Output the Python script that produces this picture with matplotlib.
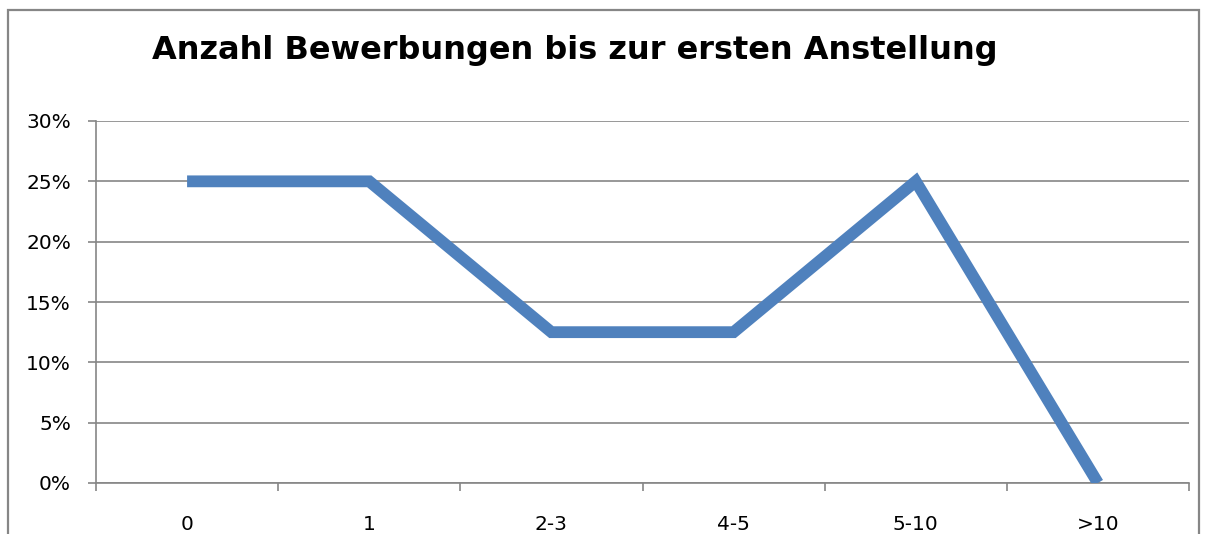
import matplotlib
matplotlib.use('Agg')
import matplotlib.pyplot as plt
from matplotlib.patches import Rectangle
from matplotlib.ticker import FixedLocator, PercentFormatter

# Daten
kategorien = ['0', '1', '2-3', '4-5', '5-10', '>10']
anteile = [25, 25, 12.5, 12.5, 25, 0]
y_ticks = [0, 5, 10, 15, 20, 25, 30]

LINIE = '#4F81BD'
GRAU = '#868686'

fig = plt.figure(figsize=(12.14, 5.34), dpi=100)
ax = fig.add_axes([96 / 1214, 51 / 534, 1093 / 1214, 362 / 534])

# Rahmen um das ganze Diagramm (unten abgeschnitten)
fig.patches.append(Rectangle((8 / 1214, -0.1), 1191 / 1214, 1.1 - 10 / 534,
                             transform=fig.transFigure, fill=False,
                             edgecolor=GRAU, linewidth=1.6))

x = list(range(len(kategorien)))
ax.plot(x, anteile, color=LINIE, linewidth=8.5, solid_capstyle='butt',
        solid_joinstyle='miter', zorder=3)

ax.set_xlim(-0.5, len(kategorien) - 0.5)
ax.set_ylim(0, 30)

ax.set_yticks(y_ticks)
ax.yaxis.set_major_formatter(PercentFormatter(decimals=0))
ax.grid(axis='y', color=GRAU, linewidth=1.2)
ax.set_axisbelow(True)

# Kategorie-Grenzen als Ticks, Beschriftung in der Mitte
ax.xaxis.set_major_locator(FixedLocator([i - 0.5 for i in range(len(kategorien) + 1)]))
ax.xaxis.set_minor_locator(FixedLocator(x))
ax.set_xticklabels([])
ax.set_xticklabels(kategorien, minor=True)
ax.tick_params(axis='x', which='major', length=6, width=1.2, color=GRAU, direction='out')
ax.tick_params(axis='x', which='minor', length=0, pad=23, labelsize=14.5)
ax.tick_params(axis='y', length=6, width=1.2, color=GRAU, pad=12, labelsize=14.5)

for s in ['top', 'right']:
    ax.spines[s].set_visible(False)
ax.spines['left'].set_color(GRAU)
ax.spines['bottom'].set_color(GRAU)
ax.spines['left'].set_linewidth(1.2)
ax.spines['bottom'].set_linewidth(1.2)

fig.text(575 / 1214, 1 - 50 / 534, 'Anzahl Bewerbungen bis zur ersten Anstellung',
         ha='center', va='center', fontsize=23, fontweight='bold')

fig.savefig('out.png', dpi=100)
